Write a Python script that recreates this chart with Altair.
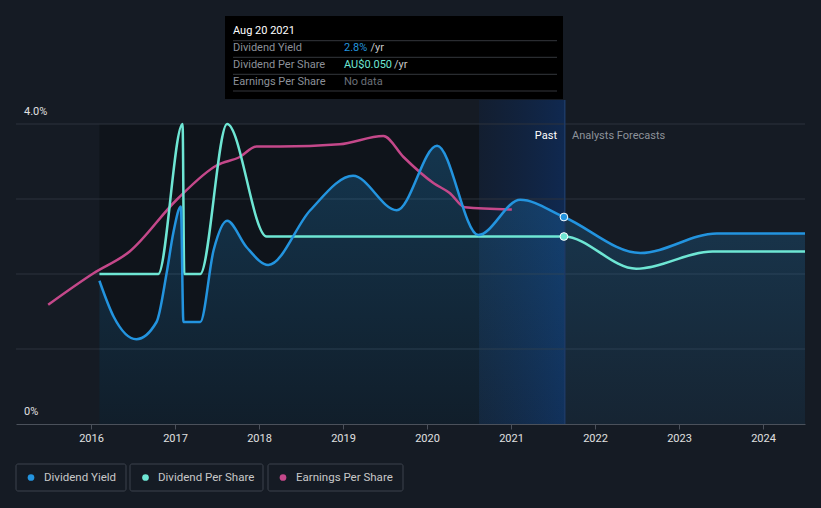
import altair as alt
import pandas as pd

BG = "#151b24"
FONT = "Roboto"
BLUE = "#2394df"
TEAL = "#6ee6d4"
PINK = "#c4488a"

# Dividend yield (%)
dy_year = [2016.10, 2016.27, 2016.54, 2016.78, 2016.90, 2016.98, 2017.07, 2017.10, 2017.30,
           2017.46, 2017.62, 2017.85, 2018.11, 2018.61, 2019.12, 2019.64, 2020.12, 2020.61,
           2021.11, 2021.63, 2022.54, 2023.45, 2024.50]
dy_val = [1.91, 1.43, 1.13, 1.36, 2.01, 2.55, 2.90, 1.36, 1.36,
          2.32, 2.71, 2.36, 2.12, 2.85, 3.31, 2.85, 3.71, 2.52,
          2.99, 2.76, 2.28, 2.54, 2.54]

# Dividend per share (AU$)
dps_year = [2016.10, 2016.80, 2017.09, 2017.11, 2017.30, 2017.62, 2018.09, 2021.63, 2022.49, 2023.40, 2024.50]
dps_val = [0.040, 0.040, 0.080, 0.040, 0.040, 0.080, 0.050, 0.050, 0.0414, 0.046, 0.046]

# Earnings per share (AU$)
eps_year = [2015.49, 2016.03, 2016.46, 2017.02, 2017.50, 2017.77, 2017.97, 2018.25, 2018.96,
            2019.48, 2019.72, 2020.08, 2020.27, 2020.45, 2021.01]
eps_val = [0.0318, 0.0402, 0.0460, 0.0598, 0.0690, 0.0712, 0.0740, 0.0740, 0.0746,
           0.0768, 0.0712, 0.0642, 0.0616, 0.0578, 0.0572]

grid_vals = [1, 2, 3, 4]
tick_years = [2016, 2017, 2018, 2019, 2020, 2021, 2022, 2023, 2024]
pct_labels = [{"v": 0, "t": "0%"}, {"v": 4, "t": "4.0%"}]
hist_start = 2016.10
past_start = 2020.62
past_end = 2021.64
cur_year = 2021.63
cur_dy = 2.76
cur_dps = 0.050
DPS_SCALE = 50  # AU$ -> chart units (AU$0.08 sits at the 4.0% line)

W, H = 789, 324
xs = alt.Scale(domain=[2015.107, 2024.5], nice=False, zero=False)
ys = alt.Scale(domain=[0, 4.32], nice=False, zero=False)
x_axis = alt.Axis(values=tick_years, format="d", title=None, grid=False,
                  domainColor="#4b515b", tickColor="#4b515b", tickSize=5,
                  labelColor="#e0e0e0", labelFont=FONT, labelFontSize=11, labelPadding=3)

dy_df = pd.DataFrame({"year": dy_year, "v": dy_val})
dps_df = pd.DataFrame({"year": dps_year, "dps": dps_val})
eps_df = pd.DataFrame({"year": eps_year, "eps": eps_val})
one = pd.DataFrame({"k": [0]})

X = lambda f: alt.X(f, type="quantitative", scale=xs, axis=x_axis)
Y = lambda f: alt.Y(f, type="quantitative", scale=ys, axis=None)

# darker historic region
dark = alt.Chart(pd.DataFrame({"a": [hist_start], "b": [past_start], "y0": [0], "y1": [4]})).mark_rect(
    color="#000000", opacity=0.25
).encode(x=X("a"), x2="b", y=Y("y0"), y2="y1")

# past band
band = alt.Chart(pd.DataFrame({"a": [past_start], "b": [past_end], "y0": [0], "y1": [4.32]})).mark_rect(
    fill=alt.Gradient(gradient="linear", x1=0, x2=1, y1=0, y2=0,
                      stops=[alt.GradientStop(color="rgba(12,40,85,0.25)", offset=0),
                             alt.GradientStop(color="rgba(12,50,110,0.6)", offset=1)])
).encode(x=X("a"), x2="b", y=Y("y0"), y2="y1")

grid = alt.Chart(pd.DataFrame({"g": grid_vals})).mark_rule(color="#2c323c", strokeWidth=1).encode(
    y=Y("g"), x=alt.value(0), x2=alt.value(W)
)

area = alt.Chart(dy_df).mark_area(
    interpolate="monotone",
    fill=alt.Gradient(gradient="linear", x1=0, x2=0, y1=0, y2=1,
                      stops=[alt.GradientStop(color="rgba(35,148,223,0.26)", offset=0),
                             alt.GradientStop(color="rgba(35,148,223,0.08)", offset=1)])
).encode(x=X("year"), y=Y("v"))

vline = alt.Chart(pd.DataFrame({"a": [past_end], "y0": [0], "y1": [4.32]})).mark_rule(
    color="#1d3a66", strokeWidth=1.5
).encode(x=X("a"), y=Y("y0"), y2="y1")

eps_line = alt.Chart(eps_df).transform_calculate(u=f"datum.eps * {DPS_SCALE}").mark_line(
    interpolate="monotone", color=PINK, strokeWidth=2.5
).encode(x=X("year"), y=Y("u"))

dps_line = alt.Chart(dps_df).transform_calculate(u=f"datum.dps * {DPS_SCALE}").mark_line(
    interpolate="monotone", color=TEAL, strokeWidth=2.5
).encode(x=X("year"), y=Y("u"))

dy_line = alt.Chart(dy_df).mark_line(interpolate="monotone", color=BLUE, strokeWidth=2.5).encode(
    x=X("year"), y=Y("v")
)

pts = alt.Chart(pd.DataFrame({"year": [cur_year, cur_year],
                              "u": [cur_dy, cur_dps * DPS_SCALE],
                              "c": [BLUE, TEAL]})).mark_point(
    filled=True, size=60, stroke="#ffffff", strokeWidth=1, opacity=1
).encode(x=X("year"), y=Y("u"), fill=alt.Color("c:N", scale=None))

pct = alt.Chart(pd.DataFrame(pct_labels)).mark_text(
    align="left", baseline="middle", dy=-12, font=FONT, fontSize=11, color="#e0e0e0"
).encode(x=alt.value(8), y=Y("v"), text="t:N")

def txt(s, x, y, color, align="left", size=11, weight="normal"):
    return alt.Chart(one).mark_text(text=s, align=align, baseline="middle", font=FONT,
                                    fontSize=size, color=color, fontWeight=weight).encode(
        x=alt.value(x), y=alt.value(y))

def rect(x, x2, y, y2, **kw):
    return alt.Chart(one).mark_rect(**kw).encode(
        x=alt.value(x), x2=alt.value(x2), y=alt.value(y), y2=alt.value(y2))

def hline(x, x2, y, color):
    return alt.Chart(one).mark_rule(color=color, strokeWidth=1).encode(
        x=alt.value(x), x2=alt.value(x2), y=alt.value(y))

past_lbl = txt("Past", 541, 36, "#ffffff", align="right")
fc_lbl = txt("Analysts Forecasts", 556, 36, "#8d929a")

# tooltip
tip = [rect(209, 547, -84, -1, color="#000000")]
for yy in [-59.3, -42.7, -25.7, -9]:
    tip.append(hline(217, 541, yy, "#34373d"))
tip += [
    txt("Aug 20 2021", 217, -69, "#ffffff"),
    txt("Dividend Yield", 217, -52.3, "#8c9099"),
    txt("Dividend Per Share", 217, -35, "#8c9099"),
    txt("Earnings Per Share", 217, -18.3, "#8c9099"),
    txt("2.8%", 328, -52.3, BLUE),
    txt("/yr", 354.5, -52.3, "#c8c8c8"),
    txt("AU$0.050", 328, -35, TEAL),
    txt("/yr", 378, -35, "#c8c8c8"),
    txt("No data", 328, -18.3, "#6b7079"),
]

# legend
legend = []
for (x0, x1, dotx, tx, label, col) in [
    (0, 110, 15, 28, "Dividend Yield", BLUE),
    (114, 247, 129.5, 142, "Dividend Per Share", TEAL),
    (252, 387, 267, 280, "Earnings Per Share", PINK),
]:
    legend.append(rect(x0, x1, 364, 391, fill=BG, stroke="#3c424c", strokeWidth=1, cornerRadius=2))
    legend.append(alt.Chart(one).mark_circle(size=45, color=col, opacity=1).encode(
        x=alt.value(dotx), y=alt.value(377.5)))
    legend.append(txt(label, tx, 377.5, "#c8c8c8", size=11.5))

chart = alt.layer(
    dark, band, grid, area, vline, eps_line, dps_line, dy_line, pts, pct, past_lbl, fc_lbl,
    *tip, *legend
).properties(
    width=W, height=H,
    padding={"left": 16, "top": 100, "right": 16, "bottom": 84},
    autosize=alt.AutoSizeParams(type="none"),
).configure(background=BG).configure_view(stroke=None)

chart.save("out.html", embed_options={"renderer": "svg", "actions": False})
